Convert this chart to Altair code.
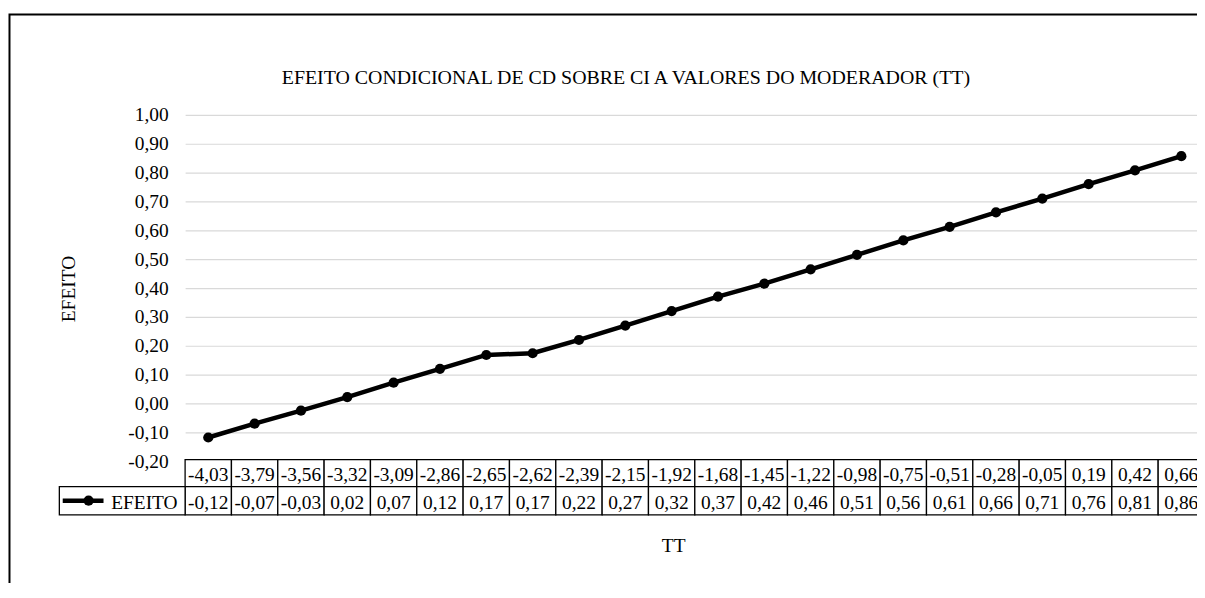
import altair as alt
import pandas as pd

# ---- data ----
tt_labels = ["-4,03", "-3,79", "-3,56", "-3,32", "-3,09", "-2,86", "-2,65", "-2,62",
             "-2,39", "-2,15", "-1,92", "-1,68", "-1,45", "-1,22", "-0,98", "-0,75",
             "-0,51", "-0,28", "-0,05", "0,19", "0,42", "0,66"]
efeito_labels = ["-0,12", "-0,07", "-0,03", "0,02", "0,07", "0,12", "0,17", "0,17",
                 "0,22", "0,27", "0,32", "0,37", "0,42", "0,46", "0,51", "0,56",
                 "0,61", "0,66", "0,71", "0,76", "0,81", "0,86"]
efeito_values = [-0.118, -0.070, -0.025, 0.022, 0.072, 0.120, 0.168, 0.174,
                 0.220, 0.270, 0.320, 0.370, 0.415, 0.465, 0.515, 0.565,
                 0.612, 0.662, 0.710, 0.760, 0.808, 0.857]
y_ticks = [-0.2, -0.1, 0.0, 0.1, 0.2, 0.3, 0.4, 0.5, 0.6, 0.7, 0.8, 0.9, 1.0]

title_text = "EFEITO CONDICIONAL DE CD SOBRE CI A VALORES DO MODERADOR (TT)"
y_title = "EFEITO"
x_title = "TT"
series_name = "EFEITO"

FONT = "Times New Roman, Liberation Serif, serif"
FS = 19.5

n = len(tt_labels)
df = pd.DataFrame({
    "i": list(range(n)),
    "lo": [k - 0.5 for k in range(n)],
    "hi": [k + 0.5 for k in range(n)],
    "tt": tt_labels,
    "lab": efeito_labels,
    "v": efeito_values,
})
one = pd.DataFrame({"a": [0]})

W = 1017
H = 348
COL = 46.57
xscale = alt.Scale(domain=[-0.5, -0.5 + W / COL], nice=False, zero=False)
yscale = alt.Scale(domain=[-0.2, 1.0], nice=False, zero=False)
yaxis = alt.Axis(
    values=y_ticks, title=None, domain=False, ticks=False, grid=True,
    gridColor="#d9d9d9", gridWidth=1.2, labelFont=FONT, labelFontSize=FS,
    labelColor="black", labelPadding=17, labelOverlap=False,
    labelExpr="(datum.value < -0.0001 ? '-' : '') + replace(format(abs(datum.value), '.2f'), '.', ',')"
)

frame = alt.Chart(one).mark_rect(fillOpacity=0, stroke="black", strokeWidth=2).encode(
    x=alt.value(-176.5), x2=alt.value(1200), y=alt.value(-100.8), y2=alt.value(700)
)

row1 = alt.Chart(df).mark_rect(fill="white", stroke="black", strokeWidth=1.3).encode(
    x=alt.X("lo:Q", scale=xscale, axis=None), x2="hi:Q",
    y=alt.value(346.5), y2=alt.value(373.5)
)
row2 = alt.Chart(df).mark_rect(fill="white", stroke="black", strokeWidth=1.3).encode(
    x=alt.X("lo:Q", scale=xscale, axis=None), x2="hi:Q",
    y=alt.value(373.5), y2=alt.value(402)
)
legcell = alt.Chart(one).mark_rect(fill="white", stroke="black", strokeWidth=1.3).encode(
    x=alt.value(-126.4), x2=alt.value(0), y=alt.value(373.5), y2=alt.value(402)
)

line = alt.Chart(df).mark_line(color="black", strokeWidth=4.5).encode(
    x=alt.X("i:Q", scale=xscale, axis=None),
    y=alt.Y("v:Q", scale=yscale, axis=yaxis)
)
pts = alt.Chart(df).mark_point(filled=True, color="black", size=105, opacity=1).encode(
    x=alt.X("i:Q", scale=xscale, axis=None),
    y=alt.Y("v:Q", scale=yscale, axis=yaxis)
)

txt1 = alt.Chart(df).mark_text(font=FONT, fontSize=FS, color="black", baseline="alphabetic").encode(
    x=alt.X("i:Q", scale=xscale, axis=None), y=alt.value(368), text="tt:N"
)
txt2 = alt.Chart(df).mark_text(font=FONT, fontSize=FS, color="black", baseline="alphabetic").encode(
    x=alt.X("i:Q", scale=xscale, axis=None), y=alt.value(396.5), text="lab:N"
)

leg_line = alt.Chart(one).mark_rule(color="black", strokeWidth=4.5).encode(
    x=alt.value(-123), x2=alt.value(-82), y=alt.value(387.7)
)
leg_pt = alt.Chart(one).mark_point(filled=True, color="black", size=105, opacity=1).encode(
    x=alt.value(-97), y=alt.value(387.7)
)
leg_txt = alt.Chart(pd.DataFrame({"t": [series_name]})).mark_text(
    font=FONT, fontSize=FS, color="black", align="left", baseline="alphabetic").encode(
    x=alt.value(-74.3), y=alt.value(396.5), text="t:N"
)

title = alt.Chart(pd.DataFrame({"t": [title_text]})).mark_text(
    font=FONT, fontSize=20, color="black", align="center", baseline="alphabetic").encode(
    x=alt.value(443), y=alt.value(-30.7), text="t:N"
)
ytitle = alt.Chart(pd.DataFrame({"t": [y_title]})).mark_text(
    font=FONT, fontSize=FS, color="black", align="center", baseline="middle", angle=270).encode(
    x=alt.value(-117), y=alt.value(175), text="t:N"
)
xtitle = alt.Chart(pd.DataFrame({"t": [x_title]})).mark_text(
    font=FONT, fontSize=FS, color="black", align="center", baseline="alphabetic").encode(
    x=alt.value(491), y=alt.value(439), text="t:N"
)

chart = alt.layer(
    frame, line, pts, row1, row2, legcell, txt1, txt2, leg_line, leg_pt, leg_txt,
    title, ytitle, xtitle
).properties(
    width=W, height=H,
    autosize=alt.AutoSizeParams(type="none"),
    padding={"left": 178, "top": 106, "right": 0, "bottom": 121},
    background="white",
).configure_view(strokeWidth=0).configure_axis(labelFont=FONT).configure_text(font=FONT)

chart.save("out.html", embed_options={"renderer": "svg", "actions": False})
